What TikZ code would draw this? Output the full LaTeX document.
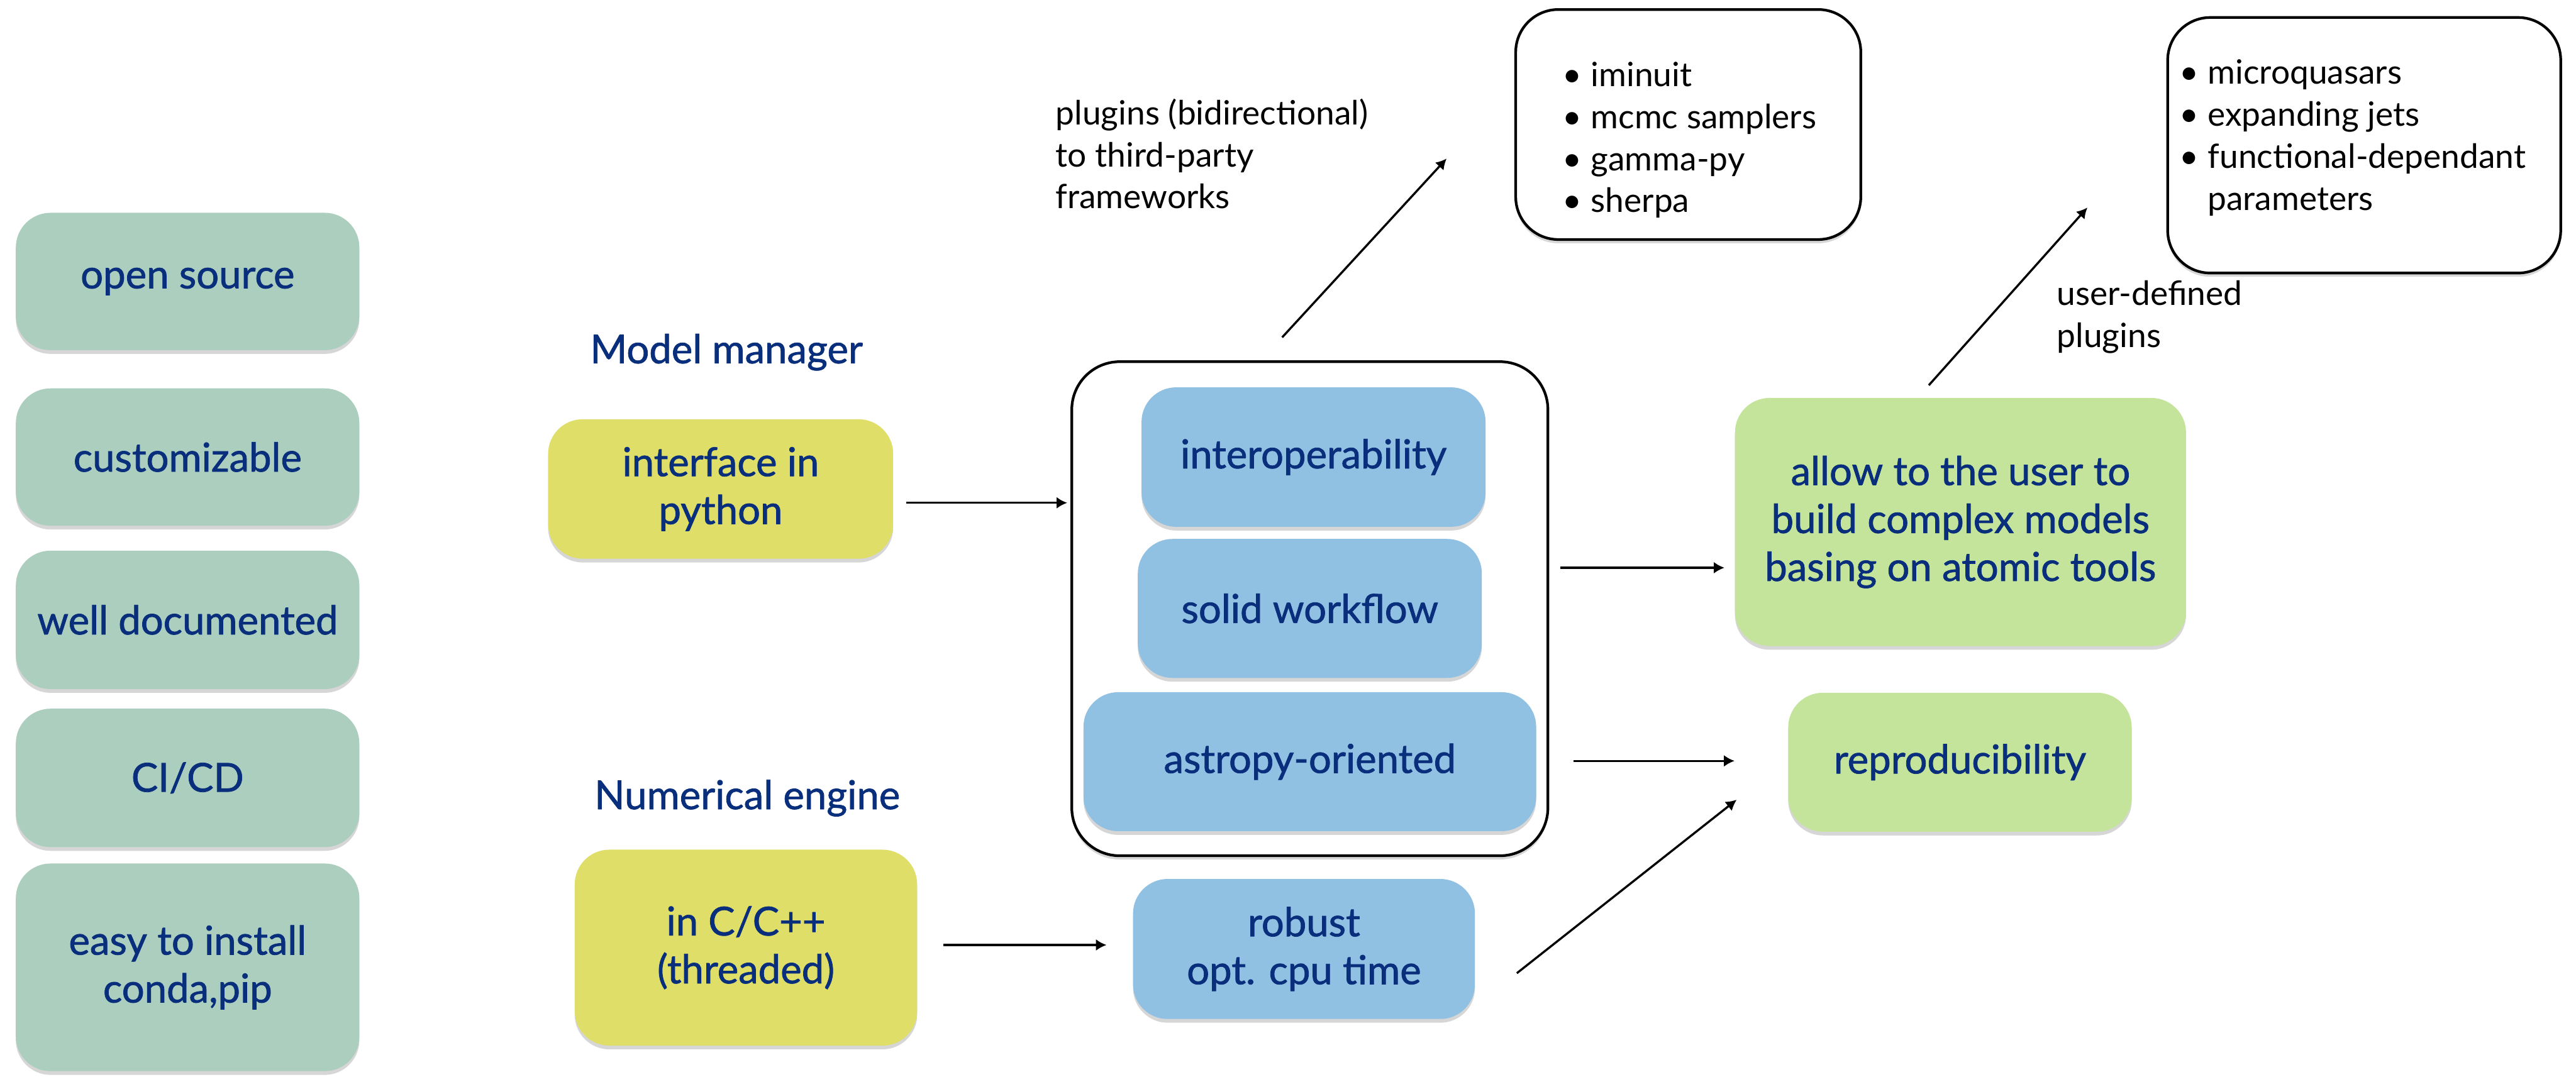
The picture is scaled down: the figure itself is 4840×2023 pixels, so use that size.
\documentclass[tikz,border=0pt]{standalone}
\usepackage{fontspec}
\setmainfont{Lato}
\newfontfamily\boxfam{Lato}[FakeBold=1.2]
\usetikzlibrary{shadows,arrows.meta}
\definecolor{navy}{RGB}{8,46,124}
\definecolor{tealbox}{RGB}{172,206,191}
\definecolor{yelbox}{RGB}{222,222,104}
\definecolor{bluebox}{RGB}{144,192,226}
\definecolor{grnbox}{RGB}{197,228,155}
\newcommand{\boxfont}{\boxfam\fontsize{21.3}{25.6}\selectfont}
\newcommand{\notefont}{\fontsize{17.9}{22.5}\selectfont}
\begin{document}
\begin{tikzpicture}[x=0.01cm,y=-0.01cm,
  softshadow/.style={drop shadow={fill=black, opacity=0.16, shadow xshift=0cm, shadow yshift=-0.07cm}},
  fbox/.style={rounded corners=0.65cm, inner sep=0pt, align=center, text=navy, font=\boxfont, softshadow},
  tealnode/.style={fbox, fill=tealbox},
  yelnode/.style={fbox, fill=yelbox},
  bluenode/.style={fbox, fill=bluebox},
  grnnode/.style={fbox, fill=grnbox},
  framenode/.style={draw=black, line width=0.05cm, fill=white, rounded corners=0.8cm, inner sep=0pt, softshadow},
  headlabel/.style={text=navy, font=\boxfont, inner sep=0pt},
  note/.style={text=black, font=\notefont, inner sep=0pt},
  arr/.style={-{Latex[length=0.2cm,width=0.22cm]}, line width=0.04cm, black}
]
\useasboundingbox (0,0) rectangle (4840,2023);

% left column
\node[tealnode, minimum width=6.45cm, minimum height=2.58cm] (open) at (352.5,529) {open source};
\node[tealnode, minimum width=6.45cm, minimum height=2.58cm] (custom) at (352.5,859) {customizable};
\node[tealnode, minimum width=6.45cm, minimum height=2.60cm] (welldoc) at (352.5,1165) {well documented};
\node[tealnode, minimum width=6.45cm, minimum height=2.60cm] (cicd) at (352.5,1462) {CI/CD};
\node[tealnode, minimum width=6.45cm, minimum height=3.90cm] (easy) at (352.5,1818) {easy to install\\conda,pip};

% model manager / numerical engine
\node[headlabel] (mm) at (1365,662) {Model manager};
\node[yelnode, minimum width=6.48cm, minimum height=2.62cm] (interface) at (1354,919) {interface in\\python};
\node[headlabel] (ne) at (1404,1500) {Numerical engine};
\node[yelnode, minimum width=6.43cm, minimum height=3.68cm] (cpp) at (1401.5,1781) {in C/C++\\(threaded)};

% big frame and blue boxes
\node[framenode, rounded corners=0.9cm, minimum width=8.94cm, minimum height=9.28cm] (big) at (2461,1144) {};
\node[bluenode, minimum width=6.46cm, minimum height=2.62cm] (interop) at (2468,859) {interoperability};
\node[bluenode, minimum width=6.46cm, minimum height=2.61cm] (solid) at (2461,1143.5) {solid workflow};
\node[bluenode, minimum width=8.50cm, minimum height=2.61cm] (astropy) at (2461,1431.5) {astropy-oriented};
\node[bluenode, minimum width=6.42cm, minimum height=2.63cm] (robust) at (2450,1783.5) {robust\\opt. cpu time};

% green boxes
\node[grnnode, minimum width=8.47cm, minimum height=4.66cm] (allow) at (3683.5,981) {allow to the user to\\build complex models\\basing on atomic tools};
\node[grnnode, minimum width=6.45cm, minimum height=2.61cm] (repro) at (3682.5,1432.5) {reproducibility};

% bullet frames
\node[framenode, minimum width=6.48cm, minimum height=4.32cm] (tools) at (3172,234) {};
\node[framenode, minimum width=7.38cm, minimum height=4.80cm] (usr) at (4442,273) {};

\node[note, anchor=base west] (toolslist) at (2935,162) {\begin{tabular}[t]{@{}l@{\hspace{0.17cm}}l@{}}•&iminuit\\•&mcmc samplers\\•&gamma-py\\•&sherpa\end{tabular}};
\node[note, anchor=base west] (usrlist) at (4094,158) {\begin{tabular}[t]{@{}l@{\hspace{0.17cm}}l@{}}•&microquasars\\•&expanding jets\\•&functional-dependant\\&parameters\end{tabular}};

% annotations
\node[note, anchor=base west] (plugtext) at (1983,234) {\begin{tabular}[t]{@{}l@{}}plugins (bidirectional)\\to third-party\\frameworks\end{tabular}};
\node[note, anchor=base west] (usertext) at (3864,574) {\begin{tabular}[t]{@{}l@{}}user-defined\\plugins\end{tabular}};

% helper coordinates
\coordinate (h1) at (0,945);
\coordinate (h2) at (0,1776);
\coordinate (h3) at (0,1067);
\coordinate (h4) at (0,1430);
\coordinate (a5s) at (2850,1829);
\coordinate (a5e) at (3263,1503);
\coordinate (a6s) at (2409,634);
\coordinate (a6e) at (2718,298);
\coordinate (a7s) at (3624,724);
\coordinate (a7e) at (3922,390);

% connectors
\draw[arr, shorten <=0.24cm, shorten >=0.06cm] (interface.east |- h1) -- (big.west |- h1);
\draw[arr, shorten <=0.48cm, shorten >=0.49cm] (cpp.east |- h2) -- (robust.west |- h2);
\draw[arr, shorten <=0.21cm, shorten >=0.19cm] (big.east |- h3) -- (allow.west |- h3);
\draw[arr, shorten <=0.46cm, shorten >=1.0cm] (big.east |- h4) -- (repro.west |- h4);
\draw[arr] (a5s) -- (a5e);
\draw[arr] (a6s) -- (a6e);
\draw[arr] (a7s) -- (a7e);
\end{tikzpicture}
\end{document}
